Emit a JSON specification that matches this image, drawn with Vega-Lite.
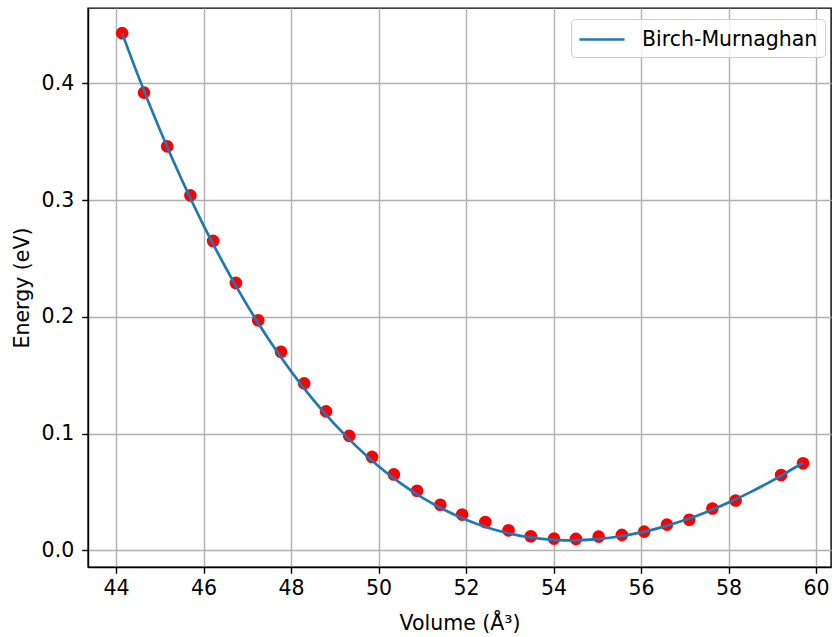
{
  "$schema": "https://vega.github.io/schema/vega-lite/v6.json",
  "width": 743,
  "height": 559,
  "autosize": "none",
  "padding": {"left": 88, "top": 8, "right": 1, "bottom": 70},
  "background": "white",
  "config": {
    "font": "DejaVu Sans",
    "view": {"stroke": "black", "strokeWidth": 1.4},
    "axis": {
      "labelFont": "DejaVu Sans",
      "titleFont": "DejaVu Sans",
      "labelFontSize": 20.5,
      "titleFontSize": 20.5,
      "labelColor": "black",
      "titleColor": "black",
      "titleFontWeight": "normal",
      "tickColor": "black",
      "tickSize": 6.3,
      "tickWidth": 1.4,
      "domainColor": "black",
      "domainWidth": 1.4,
      "gridColor": "#b0b0b0",
      "gridWidth": 1.4,
      "gridOpacity": 1
    }
  },
  "datasets": {
    "pts": [
      {"V": 44.14, "E": 0.443},
      {"V": 44.64, "E": 0.392},
      {"V": 45.17, "E": 0.346},
      {"V": 45.70, "E": 0.304},
      {"V": 46.22, "E": 0.265},
      {"V": 46.74, "E": 0.229},
      {"V": 47.25, "E": 0.197},
      {"V": 47.77, "E": 0.170},
      {"V": 48.30, "E": 0.143},
      {"V": 48.80, "E": 0.119},
      {"V": 49.33, "E": 0.098},
      {"V": 49.85, "E": 0.080},
      {"V": 50.35, "E": 0.065},
      {"V": 50.88, "E": 0.051},
      {"V": 51.41, "E": 0.039},
      {"V": 51.91, "E": 0.0306},
      {"V": 52.44, "E": 0.0242},
      {"V": 52.97, "E": 0.0171},
      {"V": 53.48, "E": 0.0120},
      {"V": 54.01, "E": 0.0100},
      {"V": 54.51, "E": 0.0098},
      {"V": 55.03, "E": 0.0117},
      {"V": 55.56, "E": 0.0132},
      {"V": 56.07, "E": 0.0160},
      {"V": 56.59, "E": 0.0220},
      {"V": 57.10, "E": 0.0262},
      {"V": 57.63, "E": 0.0358},
      {"V": 58.16, "E": 0.0427},
      {"V": 59.20, "E": 0.0645},
      {"V": 59.70, "E": 0.0745}
    ],
    "fit": [
      {"V": 44.14, "E": 0.4430},
      {"V": 44.5, "E": 0.4070},
      {"V": 45.0, "E": 0.3604},
      {"V": 45.5, "E": 0.3176},
      {"V": 46.0, "E": 0.2784},
      {"V": 46.5, "E": 0.2426},
      {"V": 47.0, "E": 0.2098},
      {"V": 47.5, "E": 0.1802},
      {"V": 48.0, "E": 0.1534},
      {"V": 48.5, "E": 0.1293},
      {"V": 49.0, "E": 0.1078},
      {"V": 49.5, "E": 0.0888},
      {"V": 50.0, "E": 0.0720},
      {"V": 50.5, "E": 0.0575},
      {"V": 51.0, "E": 0.0451},
      {"V": 51.5, "E": 0.0347},
      {"V": 52.0, "E": 0.0261},
      {"V": 52.5, "E": 0.0193},
      {"V": 53.0, "E": 0.0143},
      {"V": 53.5, "E": 0.0108},
      {"V": 54.0, "E": 0.0090},
      {"V": 54.4, "E": 0.0085},
      {"V": 55.0, "E": 0.0095},
      {"V": 55.5, "E": 0.0118},
      {"V": 56.0, "E": 0.0153},
      {"V": 56.5, "E": 0.0201},
      {"V": 57.0, "E": 0.0259},
      {"V": 57.5, "E": 0.0329},
      {"V": 58.0, "E": 0.0409},
      {"V": 58.5, "E": 0.0498},
      {"V": 59.0, "E": 0.0597},
      {"V": 59.7, "E": 0.0750}
    ]
  },
  "layer": [
    {
      "data": {"name": "pts"},
      "mark": {"type": "point", "filled": true, "size": 160, "color": "#ff0000", "opacity": 1},
      "encoding": {
        "x": {
          "field": "V", "type": "quantitative",
          "scale": {"domain": [43.36, 60.34], "nice": false, "zero": false},
          "axis": {
            "values": [44, 46, 48, 50, 52, 54, 56, 58, 60],
            "format": "d",
            "title": "Volume (Å³)",
            "labelPadding": 5,
            "titlePadding": 15
          }
        },
        "y": {
          "field": "E", "type": "quantitative",
          "scale": {"domain": [-0.0143, 0.4645], "nice": false, "zero": false},
          "axis": {
            "values": [0, 0.1, 0.2, 0.3, 0.4],
            "format": ".1f",
            "title": "Energy (eV)",
            "labelPadding": 8,
            "titlePadding": 9
          }
        }
      }
    },
    {
      "data": {"name": "fit"},
      "mark": {"type": "line", "strokeWidth": 2.7, "interpolate": "monotone"},
      "encoding": {
        "x": {"field": "V", "type": "quantitative"},
        "y": {"field": "E", "type": "quantitative"},
        "color": {
          "datum": "Birch-Murnaghan",
          "type": "nominal",
          "scale": {"range": ["#1f77b4"]},
          "legend": {
            "title": null,
            "orient": "none",
            "legendX": 483,
            "legendY": 11,
            "symbolType": "M-1,0H2.75",
            "symbolSize": 576,
            "symbolStrokeWidth": 2.7,
            "labelFontSize": 20.5,
            "labelFont": "DejaVu Sans",
            "labelColor": "black",
            "labelLimit": 400,
            "labelOffset": 37,
            "padding": 7,
            "strokeColor": "#cccccc",
            "fillColor": "rgba(255,255,255,0.8)",
            "cornerRadius": 4
          }
        }
      }
    }
  ]
}
